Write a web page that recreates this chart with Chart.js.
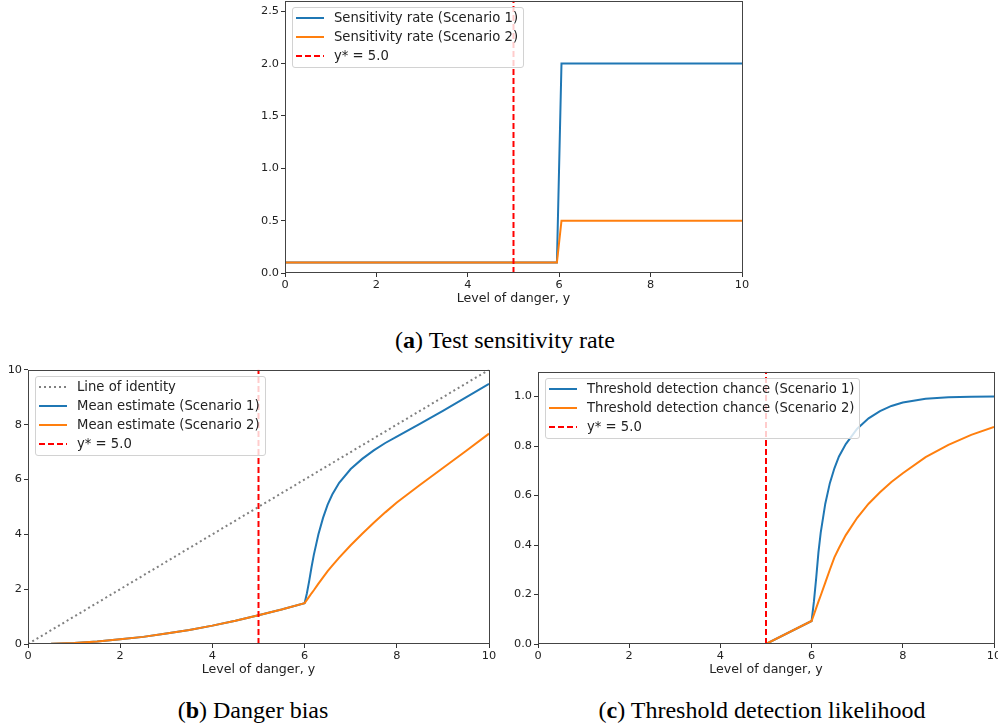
<!DOCTYPE html>
<html>
<head>
<meta charset="utf-8">
<script src="https://cdn.jsdelivr.net/npm/chart.js@4.4.1/dist/chart.umd.min.js"></script>
<style>
  html, body { margin: 0; padding: 0; background: #fff; width: 998px; height: 728px; overflow: hidden; position: relative; }
  canvas { position: absolute; }
  .legend { position: absolute; background: rgba(255,255,255,0.8); border: 1px solid #d2d2d2; border-radius: 3px;
            padding: 0 5px 2px 3px; font: 13.2px "DejaVu Sans"; color: #222; }
  .legend div { height: 19px; white-space: nowrap; display: flex; align-items: center; }
  .legend svg { margin-right: 10px; }
  .caption { position: absolute; font: 24px "Liberation Serif"; color: #000; white-space: nowrap; transform: translate(-50%, -50%); }
</style>
</head>
<body>
<canvas id="chartA"></canvas>
<canvas id="chartB"></canvas>
<canvas id="chartC"></canvas>
<div class="caption" style="left:505px; top:340px">(<b>a</b>) Test sensitivity rate</div>
<div class="caption" style="left:253px; top:710px">(<b>b</b>) Danger bias</div>
<div class="caption" style="left:762px; top:710px">(<b>c</b>) Threshold detection likelihood</div>

<script>
const Y_STAR = 5.0;
const X_TICKS = [0, 2, 4, 6, 8, 10];

// (a) test sensitivity rate
const dangerA = [0, 5.95, 6.05, 10];
const sensS1 = [0.1, 0.1, 2.0, 2.0];
const sensS2 = [0.1, 0.1, 0.5, 0.5];

// (b) danger bias
const identityX = [0, 10];
const identityY = [0, 10];
const dangerB = [0, 0.5, 1, 1.5, 2, 2.5, 3, 3.5, 4, 4.5, 5, 5.5, 6,
                 6.05, 6.1, 6.15, 6.2, 6.3, 6.4, 6.5, 6.6, 6.75, 7, 7.25, 7.5, 7.75, 8, 8.5, 9, 9.5, 10];
const meanS1 = [0, 0.01, 0.04, 0.09, 0.17, 0.26, 0.38, 0.51, 0.67, 0.85, 1.05, 1.26, 1.49,
                1.85, 2.3, 2.8, 3.25, 4.0, 4.6, 5.08, 5.45, 5.88, 6.38, 6.75, 7.06, 7.33, 7.56, 8.03, 8.5, 8.99, 9.49];
const meanS2 = [0, 0.01, 0.04, 0.09, 0.17, 0.26, 0.38, 0.51, 0.67, 0.85, 1.05, 1.26, 1.49,
                1.61, 1.73, 1.85, 1.96, 2.2, 2.43, 2.66, 2.86, 3.15, 3.6, 4.02, 4.42, 4.8, 5.16, 5.8, 6.42, 7.04, 7.67];

// (c) threshold detection likelihood
const dangerC = [0, 5, 6, 6.05, 6.1, 6.15, 6.2, 6.3, 6.4, 6.5, 6.6, 6.75, 7, 7.25, 7.5, 7.75, 8, 8.5, 9, 9.5, 10];
const detectS1 = [0, 0, 0.093, 0.17, 0.265, 0.37, 0.45, 0.567, 0.65, 0.71, 0.758, 0.808, 0.87, 0.912, 0.941, 0.962, 0.976, 0.991, 0.997, 0.999, 1.0];
const detectS2 = [0, 0, 0.093, 0.119, 0.145, 0.171, 0.196, 0.248, 0.3, 0.35, 0.388, 0.44, 0.51, 0.567, 0.613, 0.655, 0.69, 0.755, 0.805, 0.845, 0.877];

const BLUE = '#1f77b4', ORANGE = '#ff7f0e', RED = '#ff0000', GREY = '#808080';
const TEXT = '#222';
const PAD_T = 8, PAD_R = 10, X_AXIS_H = 33;

const pts = (xs, ys) => xs.map((x, i) => ({x: x, y: ys[i]}));

function series(label, xs, ys, color, order, extra) {
  return Object.assign({
    label: label, data: pts(xs, ys), borderColor: color, backgroundColor: color,
    borderWidth: 2, pointRadius: 0, fill: false, order: order, tension: 0
  }, extra || {});
}

function vline(yMax) {
  return series('y* = ' + Y_STAR.toFixed(1), [Y_STAR, Y_STAR], [0, yMax], RED, 0, {borderDash: [6, 3]});
}

const framePlugin = {
  id: 'frame',
  afterDatasetsDraw(chart) {
    const {ctx, chartArea: a} = chart;
    ctx.save();
    ctx.strokeStyle = '#444';
    ctx.lineWidth = 1;
    ctx.strokeRect(Math.round(a.left) + 0.5, Math.round(a.top) + 0.5,
                   Math.round(a.right - a.left), Math.round(a.bottom - a.top) - 1);
    ctx.restore();
  }
};

function makeChart(id, plot, yAxisW, yMax, yStep, yDigits, datasets) {
  const canvas = document.getElementById(id);
  const left = plot.left - yAxisW, top = plot.top - PAD_T;
  canvas.width = plot.right + PAD_R - left;
  canvas.height = plot.bottom + X_AXIS_H - top;
  canvas.style.left = left + 'px';
  canvas.style.top = top + 'px';

  const chart = new Chart(canvas, {
    type: 'line',
    data: {datasets: datasets},
    plugins: [framePlugin],
    options: {
      responsive: false,
      animation: false,
      devicePixelRatio: 1,
      layout: {padding: {top: PAD_T, right: PAD_R, left: 0, bottom: 0}},
      plugins: {legend: {display: false}, tooltip: {enabled: false}},
      scales: {
        x: {
          type: 'linear', min: 0, max: 10,
          afterBuildTicks: s => { s.ticks = X_TICKS.map(v => ({value: v})); },
          afterFit: s => { s.height = X_AXIS_H; },
          grid: {drawOnChartArea: false, tickLength: 4, tickColor: '#333'},
          border: {display: false},
          ticks: {color: TEXT, padding: 1, maxRotation: 0, font: {family: 'DejaVu Sans', size: 11.3}, callback: v => String(v)},
          title: {display: true, text: 'Level of danger, y', color: TEXT, padding: 0, font: {family: 'DejaVu Sans', size: 12.6}}
        },
        y: {
          type: 'linear', min: 0, max: yMax,
          afterFit: s => { s.width = yAxisW; },
          grid: {drawOnChartArea: false, tickLength: 4, tickColor: '#333'},
          border: {display: false},
          ticks: {stepSize: yStep, includeBounds: false, color: TEXT, padding: 2,
                  font: {family: 'DejaVu Sans', size: 11.3}, callback: v => v.toFixed(yDigits)}
        }
      }
    }
  });

  // matplotlib-style legend box in the upper-left of the plot
  const box = document.createElement('div');
  box.className = 'legend';
  box.style.left = (plot.left + 7) + 'px';
  box.style.top = (plot.top + 7) + 'px';
  datasets.forEach(ds => {
    const row = document.createElement('div');
    const dash = ds.borderDash ? ds.borderDash.join(',') : 'none';
    row.innerHTML = '<svg width="28" height="6"><line x1="0" y1="3" x2="28" y2="3" stroke="' + ds.borderColor +
      '" stroke-width="' + ds.borderWidth + '" stroke-dasharray="' + dash + '"/></svg><span></span>';
    row.querySelector('span').textContent = ds.label;
    box.appendChild(row);
  });
  document.body.appendChild(box);
  return chart;
}

makeChart('chartA', {left: 285, top: 0, right: 742, bottom: 273}, 40, 2.6, 0.5, 1, [
  series('Sensitivity rate (Scenario 1)', dangerA, sensS1, BLUE, 2),
  series('Sensitivity rate (Scenario 2)', dangerA, sensS2, ORANGE, 1),
  vline(2.6)
]);

makeChart('chartB', {left: 28, top: 369, right: 489, bottom: 644}, 28, 10, 2, 0, [
  series('Line of identity', identityX, identityY, GREY, 3, {borderDash: [2, 3]}),
  series('Mean estimate (Scenario 1)', dangerB, meanS1, BLUE, 2),
  series('Mean estimate (Scenario 2)', dangerB, meanS2, ORANGE, 1),
  vline(10)
]);

makeChart('chartC', {left: 538, top: 371, right: 994, bottom: 644}, 38, 1.1, 0.2, 1, [
  series('Threshold detection chance (Scenario 1)', dangerC, detectS1, BLUE, 2),
  series('Threshold detection chance (Scenario 2)', dangerC, detectS2, ORANGE, 1),
  vline(1.1)
]);
</script>
</body>
</html>
